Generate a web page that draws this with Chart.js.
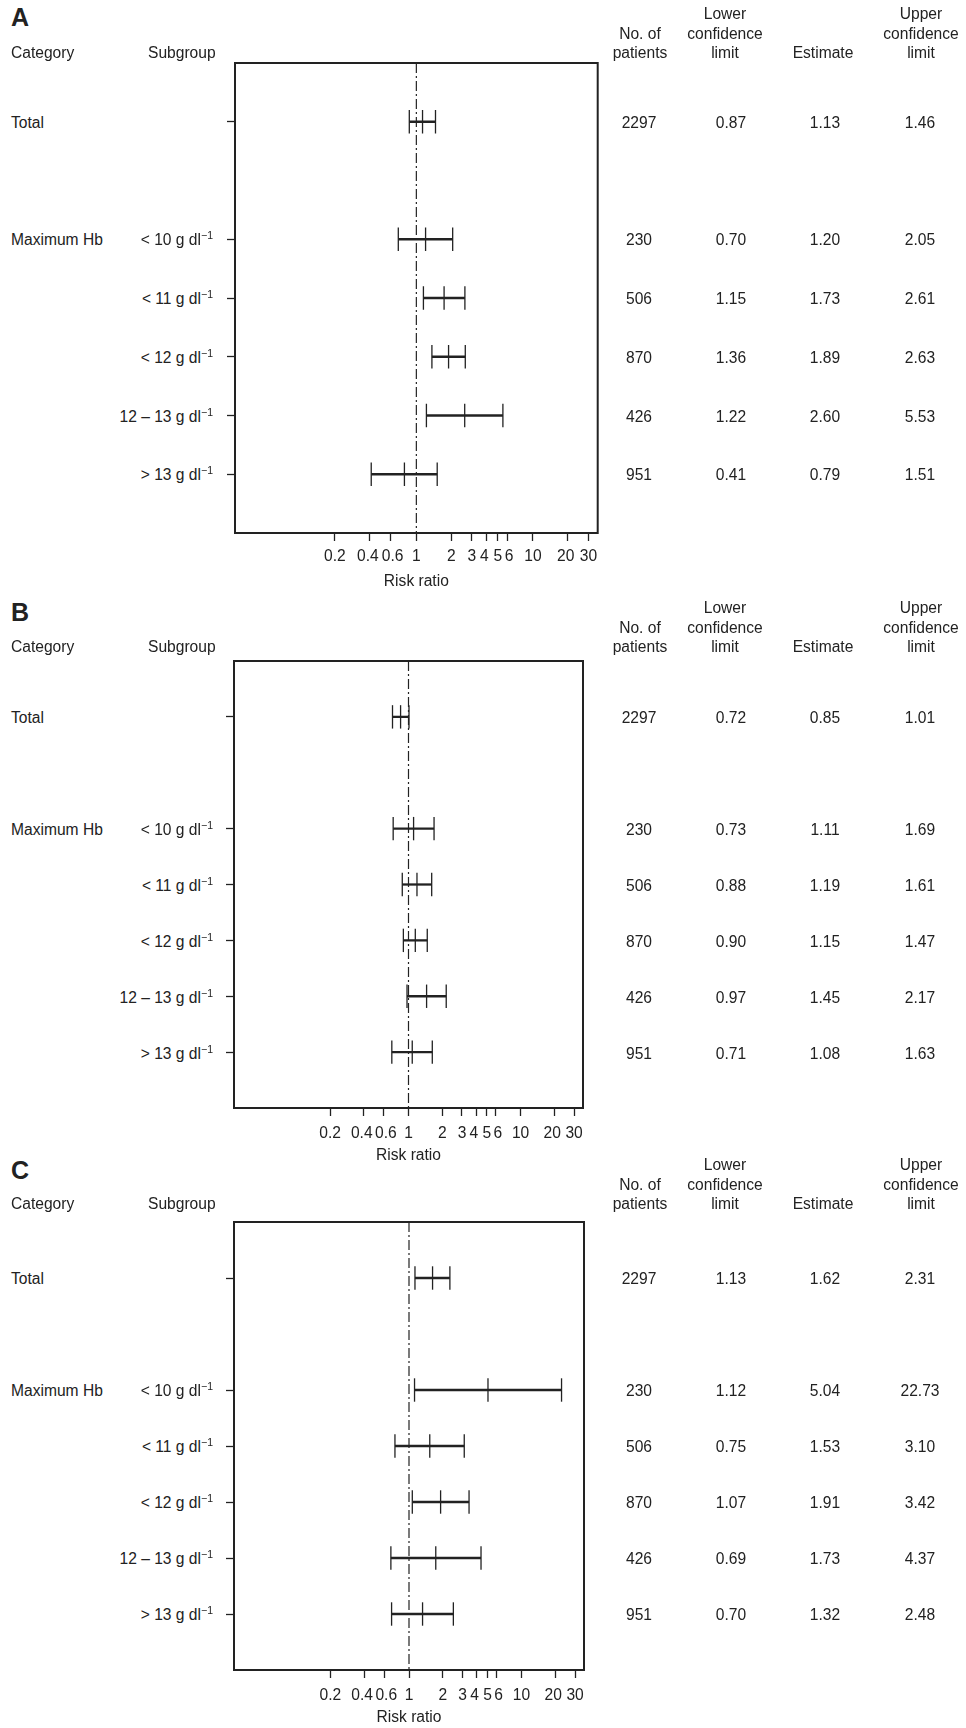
<!DOCTYPE html>
<html>
<head>
<meta charset="utf-8">
<title>Risk ratio by maximum Hb</title>
<script src="https://cdn.jsdelivr.net/npm/chart.js"></script>
<style>
  body { margin: 0; background: #fff; }
  #page { position: relative; width: 966px; height: 1728px; font-family: "Liberation Sans", Arial, sans-serif; color: #222; font-size: 15.6px; }
  .t { position: absolute; white-space: nowrap; line-height: 20px; height: 20px; }
  .c { text-align: center; width: 120px; margin-left: -60px; }
  .hd { position: absolute; white-space: nowrap; text-align: center; width: 120px; margin-left: -60px; line-height: 19.5px; }
  .letter { font-weight: bold; font-size: 25px; line-height: 30px; height: 30px; }
  sup { font-size: 10.5px; line-height: 0; position: relative; top: -6px; vertical-align: baseline; }
  canvas { position: absolute; }
</style>
</head>
<body>
<div id="page"></div>
<script>
// rows, top to bottom; rowPos is the row's place on the plot (0 = top edge, 8 = bottom edge)
const categories = ['Total', 'Maximum Hb', '', '', '', ''];
const subgroups = ['', '< 10', '< 11', '< 12', '12 \u2013 13', '> 13'];
const rowPos = [1, 3, 4, 5, 6, 7];
const patients = [2297, 230, 506, 870, 426, 951];

// panel A
const lowerA = [0.87, 0.70, 1.15, 1.36, 1.22, 0.41];
const estA = [1.13, 1.20, 1.73, 1.89, 2.60, 0.79];
const upperA = [1.46, 2.05, 2.61, 2.63, 5.53, 1.51];
// panel B
const lowerB = [0.72, 0.73, 0.88, 0.90, 0.97, 0.71];
const estB = [0.85, 1.11, 1.19, 1.15, 1.45, 1.08];
const upperB = [1.01, 1.69, 1.61, 1.47, 2.17, 1.63];
// panel C
const lowerC = [1.13, 1.12, 0.75, 1.07, 0.69, 0.70];
const estC = [1.62, 5.04, 1.53, 1.91, 1.73, 1.32];
const upperC = [2.31, 22.73, 3.10, 3.42, 4.37, 2.48];

const xTicks = [0.2, 0.4, 0.6, 1, 2, 3, 4, 5, 6, 10, 20, 30];
// spaces nudge crowded labels apart, as in the original
const xTickLabels = ['0.2', '0.4 ', ' 0.6', '1', '2', '3', '4 ', '5', ' 6', '10', '20 ', '30'];
const headers = [['', 'No. of', 'patients'], ['Lower', 'confidence', 'limit'], ['', '', 'Estimate'], ['Upper', 'confidence', 'limit']];

const ink = '#222';
const page = document.getElementById('page');
Chart.defaults.font.family = '"Liberation Sans", Arial, sans-serif';
Chart.defaults.font.size = 15.6;
Chart.defaults.color = ink;

const panels = [
  {name: 'A', lower: lowerA, est: estA, upper: upperA, letterY: 17, headY: 53, labelPad: 6.5, titleOff: 49,
   box: {left: 235, top: 62.5, right: 597.7, bottom: 532.7}},
  {name: 'B', lower: lowerB, est: estB, upper: upperB, letterY: 612, headY: 647, labelPad: 8.5, titleOff: 48,
   box: {left: 234, top: 661, right: 583, bottom: 1108}},
  {name: 'C', lower: lowerC, est: estC, upper: upperC, letterY: 1170, headY: 1204, labelPad: 8.5, titleOff: 48,
   box: {left: 234, top: 1221.7, right: 584, bottom: 1670}}
];
const headX = [640, 725, 823, 921];
const valX = [639, 731, 825, 920];

function addText(html, x, cy, cls, alignRight) {
  const d = document.createElement('div');
  d.className = 't ' + (cls || '');
  d.innerHTML = html;
  if (alignRight) d.style.right = (966 - x) + 'px';
  else d.style.left = x + 'px';
  d.style.top = (cy - (cls === 'letter' ? 15 : 10)) + 'px';
  page.appendChild(d);
}

const framePlugin = {
  id: 'frame',
  afterDraw(chart) {
    const a = chart.chartArea, ctx = chart.ctx;
    ctx.save();
    ctx.strokeStyle = ink;
    ctx.lineWidth = 2;
    ctx.strokeRect(a.left, a.top, a.right - a.left, a.bottom - a.top);
    ctx.restore();
  }
};

panels.forEach(p => {
  const cLeft = 214, cW = 400, cTop = p.box.top - 20;
  const boxH = p.box.bottom - p.box.top;
  const cH = boxH + 90;
  const axisH = p.titleOff + 9.36;
  const cv = document.createElement('canvas');
  cv.width = cW; cv.height = cH;
  cv.style.left = cLeft + 'px'; cv.style.top = cTop + 'px';
  page.appendChild(cv);

  const caps = [];
  rowPos.forEach((y, i) => caps.push({x: p.lower[i], y}, {x: p.est[i], y}, {x: p.upper[i], y}));
  const datasets = [{
    data: caps, showLine: false, pointStyle: 'line', pointRotation: 90, pointRadius: 11.7,
    pointBorderColor: ink, pointBorderWidth: 1.3, pointBackgroundColor: ink
  }];
  rowPos.forEach((y, i) => datasets.push({
    data: [{x: p.lower[i], y}, {x: p.upper[i], y}], showLine: true,
    borderColor: ink, borderWidth: 2.3, pointRadius: 0
  }));
  datasets.push({
    data: [{x: 1, y: 0}, {x: 1, y: 8}], showLine: true,
    borderColor: ink, borderWidth: 1.2, borderDash: [10, 3, 2, 3], pointRadius: 0
  });

  const chart = new Chart(cv, {
    type: 'scatter',
    data: {datasets},
    options: {
      responsive: false, animation: false, devicePixelRatio: 1, events: [],
      layout: {padding: {left: p.box.left - cLeft - 15, right: cLeft + cW - p.box.right, top: 20, bottom: cH - 20 - boxH - axisH}},
      plugins: {legend: {display: false}, tooltip: {enabled: false}},
      scales: {
        x: {
          type: 'logarithmic', min: 1 / 36, max: 36,
          afterBuildTicks: s => { s.ticks = xTicks.map(v => ({value: v})); },
          afterFit: s => { s.height = axisH; },
          border: {display: false},
          grid: {drawOnChartArea: false, tickLength: 8, tickColor: ink, tickWidth: 1.3},
          ticks: {autoSkip: false, maxRotation: 0, padding: p.labelPad, callback: (v, i) => xTickLabels[i]},
          title: {display: true, text: 'Risk ratio', padding: 0}
        },
        y: {
          type: 'linear', reverse: true, min: 0, max: 8,
          afterBuildTicks: s => { s.ticks = rowPos.map(v => ({value: v})); },
          afterFit: s => { s.width = 15; },
          border: {display: false},
          grid: {drawOnChartArea: false, tickLength: 8, tickColor: ink, tickWidth: 1.3},
          ticks: {display: false}
        }
      }
    },
    plugins: [framePlugin]
  });

  // panel letter and column headers
  addText(p.name, 11, p.letterY, 'letter');
  addText('Category', 11, p.headY);
  addText('Subgroup', 148, p.headY);
  headers.forEach((lines, j) => {
    const d = document.createElement('div');
    d.className = 'hd';
    d.innerHTML = lines.join('<br>');
    d.style.left = headX[j] + 'px';
    d.style.top = (p.headY - 48.75) + 'px';
    page.appendChild(d);
  });

  // row texts, placed on the chart's own y scale
  rowPos.forEach((pos, i) => {
    const cy = cTop + chart.scales.y.getPixelForValue(pos) + 1.5;
    if (categories[i]) addText(categories[i], 11, cy);
    if (subgroups[i]) addText(subgroups[i] + ' g dl<sup>\u22121</sup>', 213, cy, '', true);
    const vals = [String(patients[i]), p.lower[i].toFixed(2), p.est[i].toFixed(2), p.upper[i].toFixed(2)];
    vals.forEach((v, j) => addText(v, valX[j], cy, 'c'));
  });
});
</script>
</body>
</html>
